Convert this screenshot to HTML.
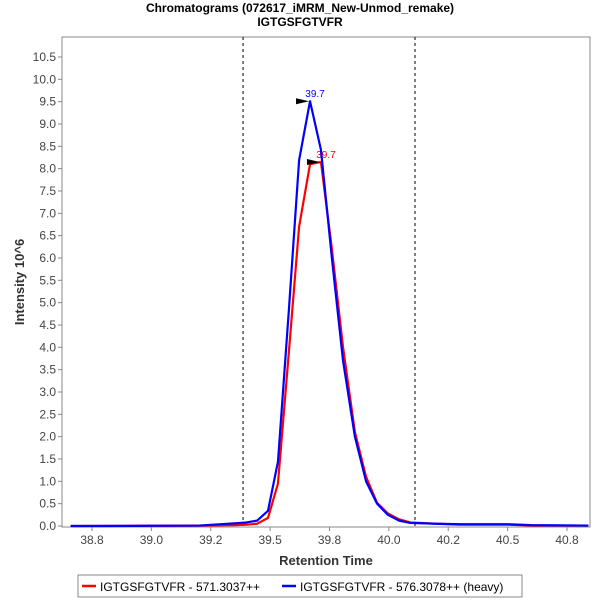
<!DOCTYPE html>
<html><head><meta charset="utf-8"><style>
body{margin:0;background:#fff;font-family:"Liberation Sans",sans-serif}
</style></head><body>
<svg id="chart" width="600" height="600" xmlns="http://www.w3.org/2000/svg" font-family="Liberation Sans, sans-serif">
<text x="300" y="12" text-anchor="middle" font-size="12" font-weight="bold">Chromatograms (072617_iMRM_New-Unmod_remake)</text>
<text x="300" y="26" text-anchor="middle" font-size="12" font-weight="bold">IGTGSFGTVFR</text>
<g id="plot"></g>
<text x="326" y="565" text-anchor="middle" font-size="13" font-weight="bold" fill="#333">Retention Time</text>
<text transform="translate(24,282) rotate(-90)" text-anchor="middle" font-size="13" font-weight="bold" fill="#333">Intensity 10^6</text>
<g>
<rect x="78" y="575" width="444" height="22" fill="#fff" stroke="#888"/>
<g><line x1="82" y1="586" x2="96" y2="586" stroke="#f00" stroke-width="2.5"/><text x="100" y="591" font-size="12">IGTGSFGTVFR - 571.3037++</text></g>
<g><line x1="282" y1="586" x2="296" y2="586" stroke="#00f" stroke-width="2.5"/><text x="300" y="591" font-size="12">IGTGSFGTVFR - 576.3078++ (heavy)</text></g>
</g>
</svg>
<script>
const times=[38.66,39.0,39.2,39.35,39.40,39.445,39.491,39.533,39.579,39.622,39.668,39.714,39.76,39.807,39.857,39.904,39.95,39.996,40.043,40.09,40.2,40.3,40.5,40.6,40.84];
const lightVals=[0,0.005,0.01,0.02,0.03,0.05,0.18,0.95,3.9,6.7,8.1,8.15,6.2,4.0,2.1,1.1,0.52,0.28,0.15,0.08,0.05,0.03,0.03,0.01,0.01];
const heavyVals=[0,0.005,0.01,0.06,0.08,0.12,0.34,1.44,4.84,8.19,9.51,8.42,6.0,3.7,2.0,1.0,0.5,0.25,0.12,0.07,0.05,0.04,0.04,0.02,0.01];
const yTicks=[0,0.5,1,1.5,2,2.5,3,3.5,4,4.5,5,5.5,6,6.5,7,7.5,8,8.5,9,9.5,10,10.5];
const xTicks=[38.75,39.0,39.25,39.5,39.75,40.0,40.25,40.5,40.75];
const xTickLabels=["38.8","39.0","39.2","39.5","39.8","40.0","40.2","40.5","40.8"];
const boundaries=[39.386,40.11];
const peakTimes=[39.714,39.668];
const peakLabels=["39.7","39.7"];
const L=62,R=590,T=37,B=527;
const X=t=>92+(t-38.75)*237.5;
const Y=v=>526-v*44.67;
const ns="http://www.w3.org/2000/svg";
const g=document.getElementById('plot');
function mk(tag,attrs,parent){const e=document.createElementNS(ns,tag);for(const k in attrs)e.setAttribute(k,attrs[k]);(parent||g).appendChild(e);return e;}
const frame=mk('rect',{x:L,y:T,width:R-L,height:B-T,fill:'#fff',stroke:'#888'});


yTicks.forEach(v=>{
 const tk=mk('line',{x1:L-4,x2:L,y1:Y(v),y2:Y(v),stroke:'#888'});
 
 
 const t=mk('text',{x:L-6,y:Y(v)+4,'text-anchor':'end','font-size':12,fill:'#444'});
 t.textContent=v.toFixed(1);
 
 
});
xTicks.forEach((v,i)=>{
 const tk=mk('line',{x1:X(v),x2:X(v),y1:B,y2:B+4,stroke:'#888'});
 
 
 const t=mk('text',{x:X(v),y:B+17,'text-anchor':'middle','font-size':12,fill:'#444'});
 t.textContent=xTickLabels[i];
 
 
});
boundaries.forEach(b=>{
 const l=mk('line',{x1:X(b),x2:X(b),y1:T,y2:B,stroke:'#000','stroke-dasharray':'3,3'});
 
 
});
[[lightVals,'#f00','light-series',0],[heavyVals,'#00f','heavy-series',1]].forEach(([vals,c,n,i])=>{
 const p=mk('polyline',{points:times.map((t,j)=>X(t)+','+Y(vals[j])).join(' '),fill:'none',stroke:c,'stroke-width':2.2,'stroke-linejoin':'round'});
 
 
 const j=times.indexOf(peakTimes[i]);
 const px=X(times[j]),py=Y(vals[j]);
 const a=mk('polygon',{points:(px-1)+','+py+' '+(px-14)+','+(py-3)+' '+(px-14)+','+(py+3),fill:'#000'});
 
 
 const t=mk('text',{x:px+5,y:py-4,'text-anchor':'middle','font-size':10,fill:c});
 t.textContent=peakLabels[i];
 
 
});
</script>
</body></html>
